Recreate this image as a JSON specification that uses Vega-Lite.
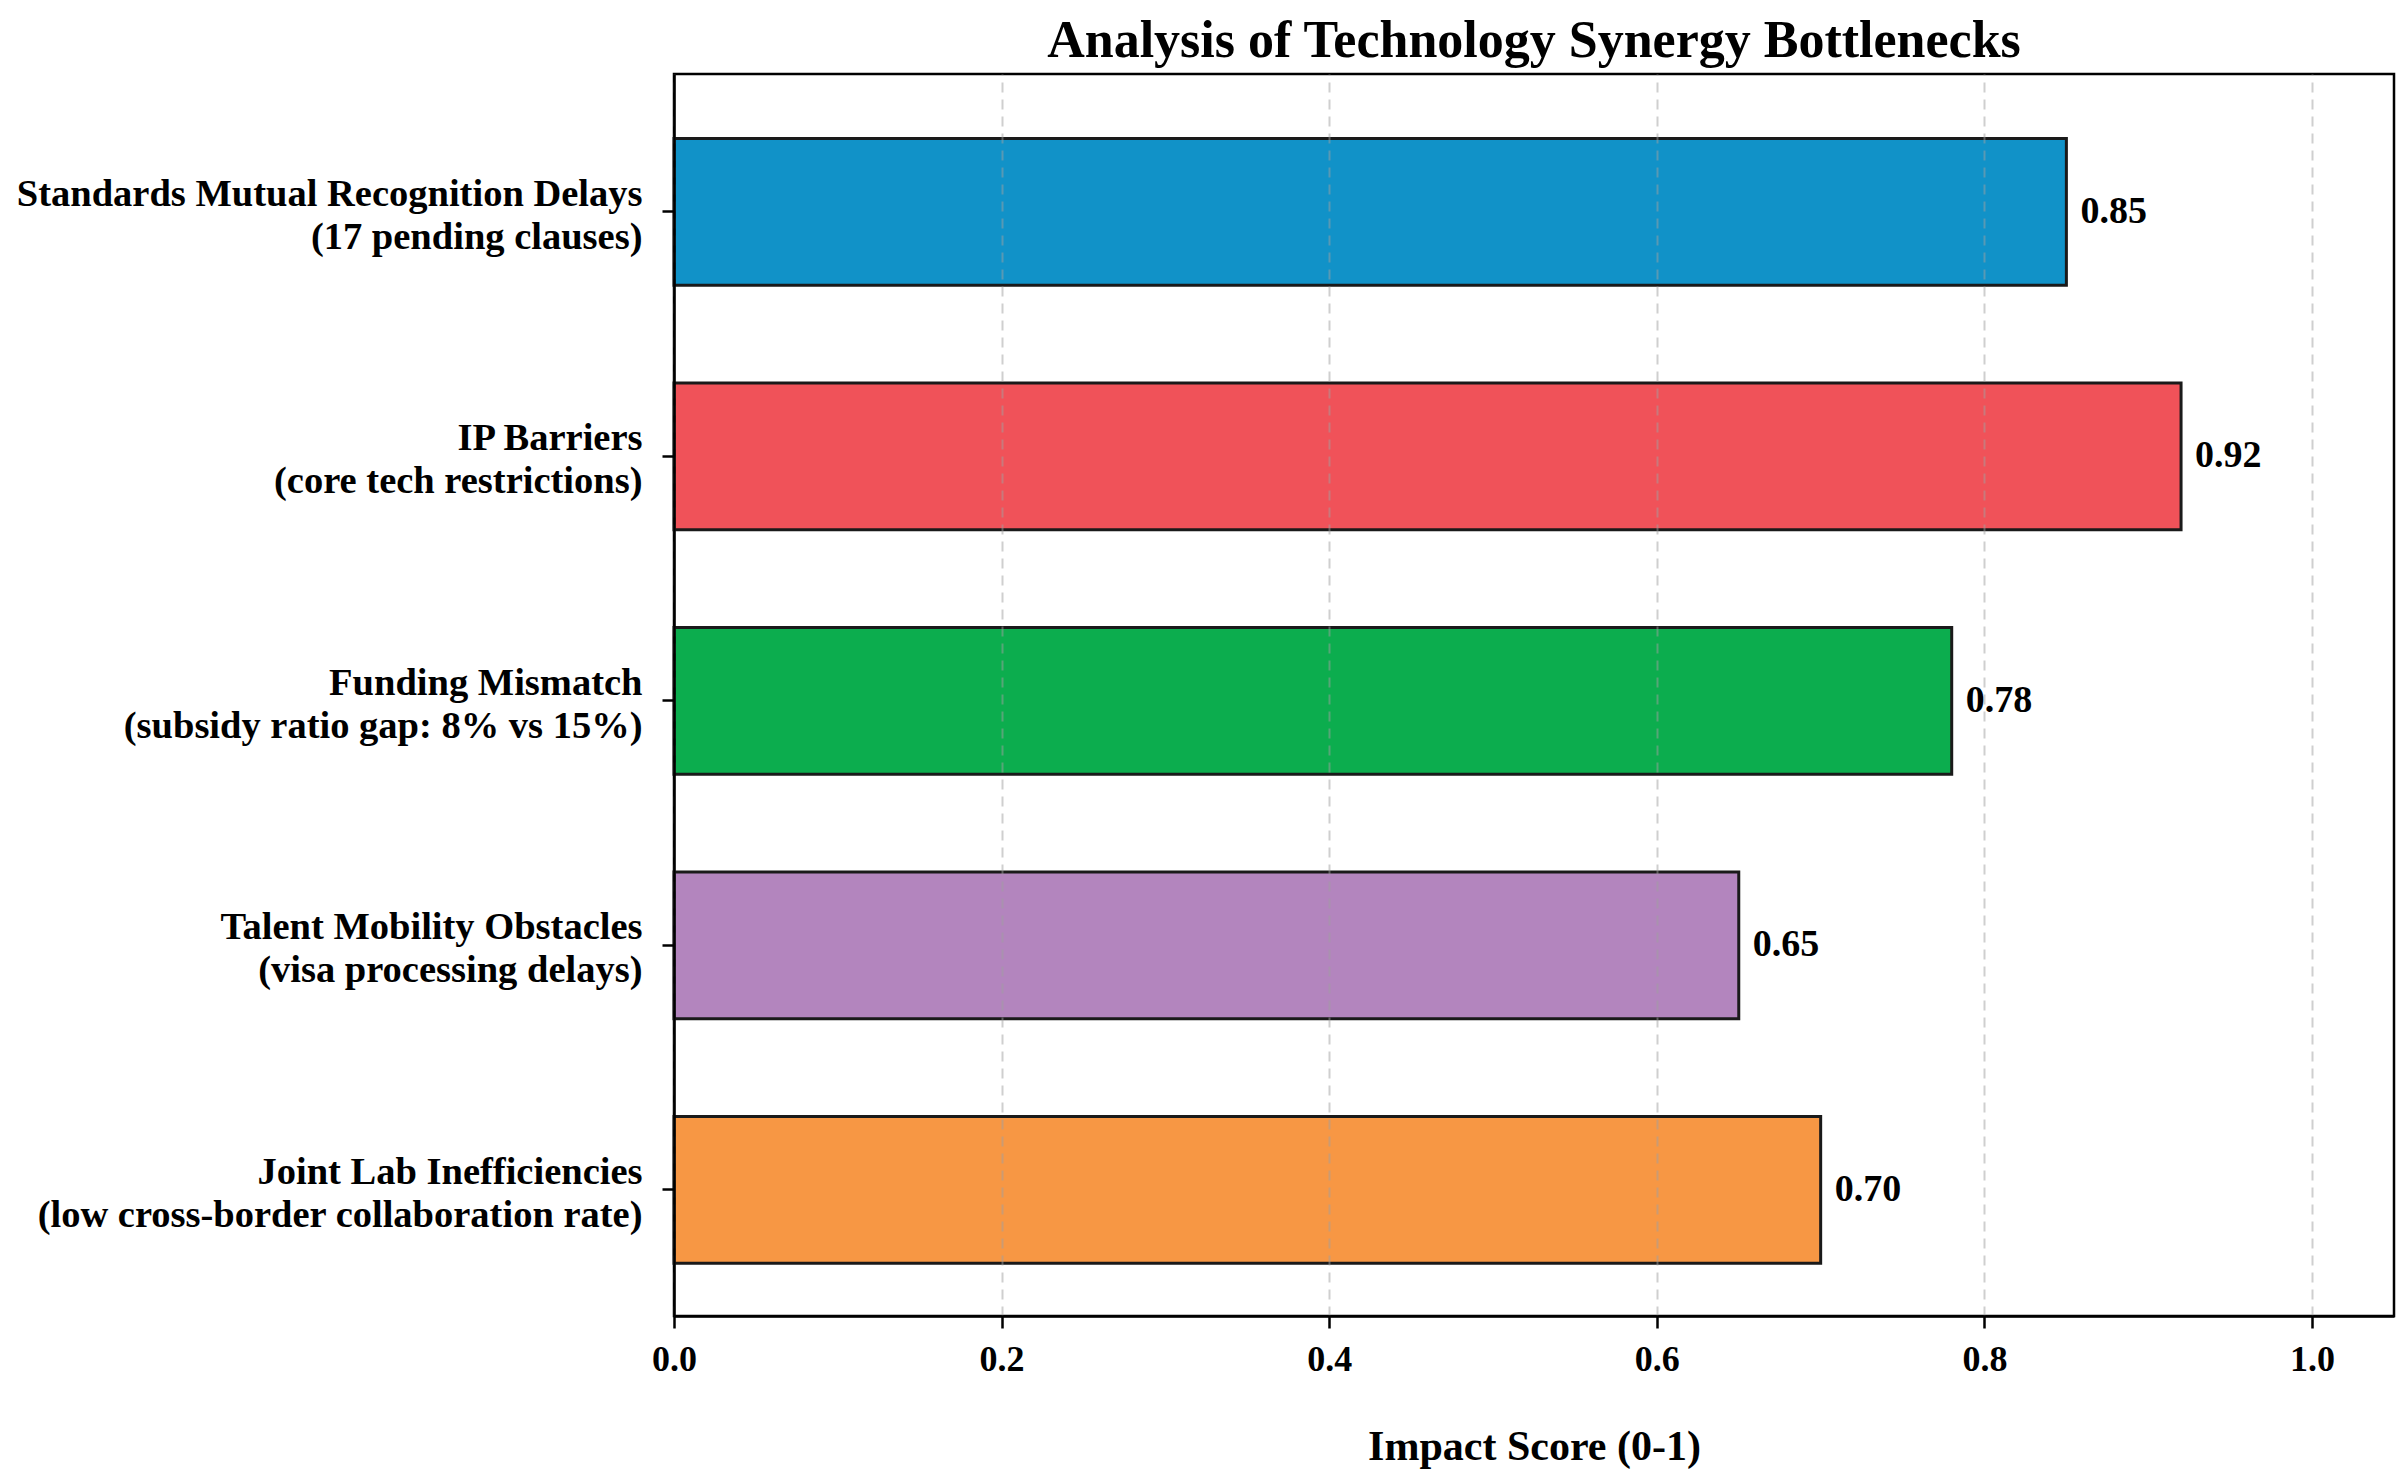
{
  "$schema": "https://vega.github.io/schema/vega-lite/v6.json",
  "autosize": "none",
  "width": 1720,
  "height": 1242,
  "padding": {"left": 674, "top": 74, "right": 14, "bottom": 168},
  "background": "white",
  "title": {
    "text": "Analysis of Technology Synergy Bottlenecks",
    "font": "Liberation Serif",
    "fontSize": 52,
    "fontWeight": "bold",
    "color": "black",
    "anchor": "middle",
    "offset": 6
  },
  "config": {
    "view": {"stroke": "black", "strokeWidth": 2.5},
    "font": "Liberation Serif"
  },
  "data": {
    "values": [
      {"category": "Standards Mutual Recognition Delays|(17 pending clauses)", "score": 0.85, "color": "#1192C8"},
      {"category": "IP Barriers|(core tech restrictions)", "score": 0.92, "color": "#F05259"},
      {"category": "Funding Mismatch|(subsidy ratio gap: 8% vs 15%)", "score": 0.78, "color": "#0CAD4E"},
      {"category": "Talent Mobility Obstacles|(visa processing delays)", "score": 0.65, "color": "#B385BE"},
      {"category": "Joint Lab Inefficiencies|(low cross-border collaboration rate)", "score": 0.70, "color": "#F79744"}
    ]
  },
  "encoding": {
    "y": {
      "field": "category",
      "type": "nominal",
      "sort": null,
      "scale": {"paddingInner": 0.4, "paddingOuter": 0.24, "align": 0.55},
      "axis": {
        "title": null,
        "labelExpr": "split(datum.label, '|')",
        "labelFont": "Liberation Serif",
        "labelFontSize": 38.5,
        "labelFontWeight": "bold",
        "labelColor": "black",
        "labelLineHeight": 43,
        "labelOffset": -18,
        "labelPadding": 20,
        "labelLimit": 0,
        "tickSize": 12,
        "tickWidth": 2.5,
        "tickColor": "black",
        "domainColor": "black",
        "domainWidth": 2.5,
        "grid": false,
        "zindex": 2
      }
    }
  },
  "layer": [
    {
      "mark": {"type": "bar", "stroke": "#1a1a1a", "strokeWidth": 3},
      "encoding": {
        "x": {
          "field": "score",
          "type": "quantitative",
          "scale": {"domain": [0, 1.05], "nice": false, "zero": true},
          "axis": {
            "title": "Impact Score (0-1)",
            "titleFont": "Liberation Serif",
            "titleFontSize": 42,
            "titleFontWeight": "bold",
            "titleColor": "black",
            "titlePadding": 49,
            "values": [0, 0.2, 0.4, 0.6, 0.8, 1.0],
            "format": ".1f",
            "labelFont": "Liberation Serif",
            "labelFontSize": 36,
            "labelFontWeight": "bold",
            "labelColor": "black",
            "labelPadding": 14,
            "labelFlush": false,
            "tickSize": 12,
            "tickWidth": 2.5,
            "tickColor": "black",
            "domainColor": "black",
            "domainWidth": 2.5,
            "grid": true,
            "gridColor": "#a0a0a0",
            "gridOpacity": 0.5,
            "gridDash": [10, 7],
            "gridWidth": 2,
            "zindex": 1
          }
        },
        "color": {"field": "color", "type": "nominal", "scale": null, "legend": null}
      }
    },
    {
      "mark": {
        "type": "text",
        "align": "left",
        "baseline": "middle",
        "dx": 14,
        "font": "Liberation Serif",
        "fontSize": 38,
        "fontWeight": "bold",
        "color": "black"
      },
      "encoding": {
        "x": {"field": "score", "type": "quantitative"},
        "text": {"field": "score", "type": "quantitative", "format": ".2f"}
      }
    }
  ]
}
